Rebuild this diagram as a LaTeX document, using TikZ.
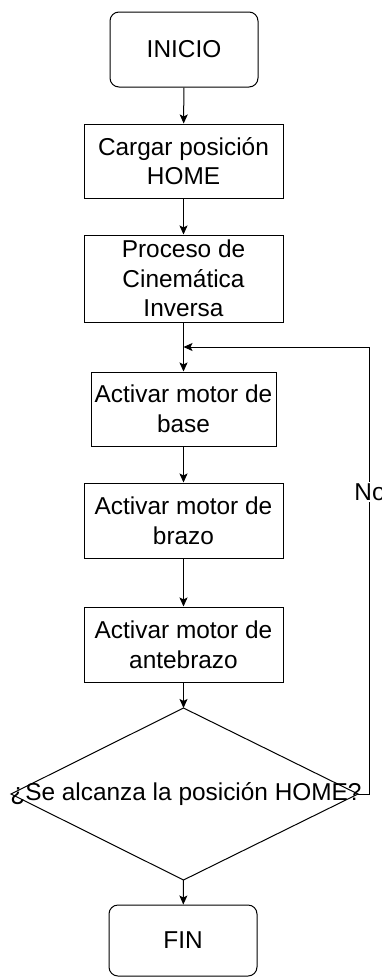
\documentclass[tikz,border=0pt]{standalone}
\usepackage{fontspec}
\setmainfont{Liberation Sans}
\usetikzlibrary{arrows.meta}
\begin{document}
\begin{tikzpicture}[x=1pt,y=-1pt,
  txt/.style={font=\fontsize{24.4}{29.7}\selectfont, align=center, inner sep=0pt},
  proc/.style={txt, draw, line width=1pt, minimum width=199pt, minimum height=75pt},
  term/.style={proc, rounded corners=9pt, minimum width=148pt},
  arr/.style={line width=1pt, -{Stealth[length=9pt,width=8pt,inset=2pt]}},
  ln/.style={line width=1pt}]
\useasboundingbox (0,0) rectangle (382,978);
\fill[white] (0,0) rectangle (382,978);
\node[term, minimum height=75pt] (inicio) at (184,49.5) {INICIO};
\node[proc, minimum height=74pt] (cargar) at (183.5,161) {Cargar posición\\HOME};
\node[proc, minimum height=87pt] (proceso) at (183.5,278.5) {Proceso de\\Cinemática\\Inversa};
\node[proc, minimum width=185pt, minimum height=74pt] (base) at (183.5,409) {Activar motor de\\base};
\node[proc] (brazo) at (183.5,520.5) {Activar motor de\\brazo};
\node[proc] (ante) at (183.5,644.5) {Activar motor de\\antebrazo};
\coordinate (dt) at (183.5,708);
\coordinate (db) at (183.5,880);
\coordinate (dl) at (11,794);
\coordinate (dr) at (358,794);
\draw[ln] (dt) -- (dr) -- (db) -- (dl) -- cycle;
\node[txt] (dec) at (186,794) {¿Se alcanza la posición HOME?};
\node[term, minimum height=71pt] (fin) at (183,940.5) {FIN};
\coordinate (j) at (183.5,347);
\coordinate (lx) at (369,0);
\draw[arr] (inicio) -- (cargar);
\draw[arr] (cargar) -- (proceso);
\draw[arr] (proceso) -- (base);
\draw[arr] (brazo.north |- base.south) -- (brazo);
\draw[arr] (brazo) -- (ante);
\draw[arr] (ante) -- (dt);
\draw[arr] (db) -- (fin);
\draw[arr] (dr) -- (dr -| lx) |- (j);
\node[txt, fill=white, inner sep=1pt] (no) at (370,492) {No};
\end{tikzpicture}
\end{document}
